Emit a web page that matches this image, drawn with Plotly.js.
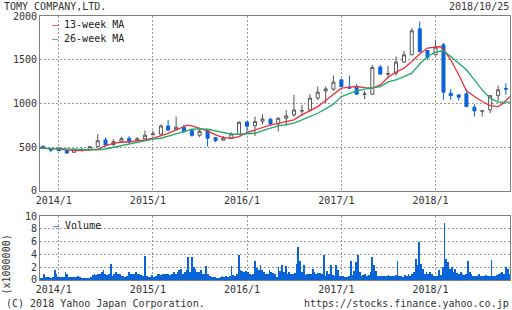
<!DOCTYPE html>
<html><head><meta charset="utf-8">
<script src="https://cdn.plot.ly/plotly-3.0.1.min.js"></script>
<style>body{margin:0;background:#fff}#c{width:512px;height:310px}</style>
</head><body><div id="c"></div>
<script>
// ---- data ----
const candleMonths = ['2013-11-01','2013-12-01','2014-01-01','2014-02-01','2014-03-01','2014-04-01','2014-05-01','2014-06-01','2014-07-01','2014-08-01','2014-09-01','2014-10-01','2014-11-01','2014-12-01','2015-01-01','2015-02-01','2015-03-01','2015-04-01','2015-05-01','2015-06-01','2015-07-01','2015-08-01','2015-09-01','2015-10-01','2015-11-01','2015-12-01','2016-01-01','2016-02-01','2016-03-01','2016-04-01','2016-05-01','2016-06-01','2016-07-01','2016-08-01','2016-09-01','2016-10-01','2016-11-01','2016-12-01','2017-01-01','2017-02-01','2017-03-01','2017-04-01','2017-05-01','2017-06-01','2017-07-01','2017-08-01','2017-09-01','2017-10-01','2017-11-01','2017-12-01','2018-01-01','2018-02-01','2018-03-01','2018-04-01','2018-05-01','2018-06-01','2018-07-01','2018-08-01','2018-09-01','2018-10-01'];
const opens  = [510,480,488,463,440,460,467,505,581,528,562,601,573,596,641,647,742,704,727,688,635,685,608,578,601,642,788,745,796,819,765,830,868,912,925,1060,1143,1163,1270,1186,1186,1103,1105,1415,1335,1346,1472,1556,1854,1606,1556,1671,1117,1097,1109,956,912,925,1089,1170];
const highs  = [515,482,495,465,478,493,510,650,612,590,619,627,613,688,688,760,811,849,753,700,716,704,612,627,670,795,795,849,876,830,840,925,1097,983,1105,1193,1193,1319,1280,1319,1220,1143,1441,1441,1430,1537,1602,1862,1938,1610,1728,1690,1166,1105,1166,991,916,1095,1204,1232];
const lows   = [480,440,450,424,438,447,462,500,520,512,555,535,570,590,636,635,677,688,665,619,612,505,555,575,598,640,650,627,757,740,677,742,849,857,906,1040,1002,1143,1190,1170,1100,1048,1100,1330,1289,1320,1465,1550,1580,1499,1550,1040,1040,1032,960,849,849,887,1029,1097];
const closes = [485,465,460,432,475,472,505,573,524,562,596,562,596,635,650,742,696,727,677,635,681,601,573,604,650,784,738,791,822,765,830,857,925,918,1060,1128,1166,1243,1193,1174,1105,1108,1411,1335,1340,1472,1556,1831,1594,1525,1644,1128,1089,1071,963,914,914,1089,1155,1163];

const maDates = ['2013-10-20','2013-11-01','2013-12-01','2014-01-01','2014-02-01','2014-03-01','2014-04-01','2014-05-01','2014-06-01','2014-07-01','2014-08-01','2014-09-01','2014-10-01','2014-11-01','2014-12-01','2015-01-01','2015-02-01','2015-03-01','2015-04-01','2015-05-01','2015-05-15','2015-06-01','2015-07-01','2015-08-01','2015-09-01','2015-10-01','2015-11-01','2015-12-01','2016-01-01','2016-02-01','2016-03-01','2016-04-01','2016-05-01','2016-06-01','2016-07-01','2016-08-01','2016-09-01','2016-10-01','2016-11-01','2016-12-01','2017-01-01','2017-02-01','2017-03-01','2017-04-01','2017-05-01','2017-06-01','2017-07-01','2017-08-01','2017-09-01','2017-10-01','2017-11-01','2017-12-01','2018-01-01','2018-01-20','2018-02-01','2018-03-01','2018-04-01','2018-05-01','2018-06-01','2018-07-01','2018-08-01','2018-09-01','2018-09-20','2018-10-17'];
const ma13 = [488,487,480,478,468,459,462,467,475,516,543,558,558,570,581,601,627,658,696,734,750,742,716,685,639,608,601,619,665,696,722,753,770,790,811,868,918,963,1032,1105,1174,1186,1193,1181,1174,1212,1300,1358,1403,1479,1564,1633,1644,1651,1614,1499,1327,1143,1078,1021,975,963,1000,1078];
const ma26 = [488,487,482,482,478,475,470,467,467,478,498,516,535,550,570,590,601,622,650,677,690,704,708,704,685,665,647,647,650,658,688,716,742,758,775,811,849,887,937,991,1078,1117,1143,1163,1174,1193,1245,1270,1307,1346,1450,1537,1587,1600,1602,1537,1461,1384,1270,1155,1060,1014,1014,1014];

const volStart = '2013-10-21'; // weekly volume, one value per week (x1,000,000)
const volumes = [
0.35,0.35,1.0,0.4,0.4,0.4,0.35,0.4,1.6,1.0,
0.5,0.4,0.5,0.4,1.2,0.9,0.5,0.5,0.5,0.5,
0.5,0.7,0.4,0.35,0.35,0.35,0.35,0.35,0.4,0.8,
0.9,0.8,0.9,1.0,1.2,1.5,0.9,0.8,1.0,2.5,
0.6,1.0,1.3,0.9,1.0,0.7,0.6,0.5,0.6,1.2,
0.9,1.0,0.9,1.2,1.0,0.9,0.8,0.6,3.75,0.6,
0.5,0.4,0.8,0.5,0.6,0.9,1.0,0.8,1.0,0.9,
1.0,0.95,0.8,1.0,1.2,1.0,1.3,1.6,1.7,1.0,
1.3,1.6,3.6,1.3,3.6,2.1,1.7,1.3,1.2,1.6,
1.0,0.9,2.2,0.9,0.6,0.5,0.4,0.5,0.35,0.3,
0.5,0.6,0.5,0.6,0.5,0.6,2.2,0.8,0.6,1.0,
3.9,1.6,1.4,1.2,1.4,1.3,1.0,0.8,0.9,2.9,
1.8,1.6,2.3,1.5,1.3,1.0,0.9,1.6,1.3,1.1,
0.9,0.45,2.0,1.35,2.4,1.2,2.2,1.0,1.2,1.0,
1.0,1.1,2.5,5.2,2.9,1.2,2.4,0.8,1.0,0.9,
1.0,1.7,1.2,1.0,1.1,1.1,1.0,3.85,0.7,1.35,
1.0,2.4,0.8,0.7,2.4,1.5,0.7,0.7,0.55,0.45,
0.45,0.7,2.9,0.8,1.4,2.8,3.85,1.2,0.7,0.8,
1.0,0.7,0.8,1.2,3.6,2.3,1.35,0.7,0.7,0.6,
0.7,0.6,0.6,0.8,0.7,0.7,0.7,0.8,2.9,0.6,
0.55,0.45,0.8,0.7,1.0,0.7,1.0,1.2,3.3,2.3,
5.9,2.55,1.7,1.0,1.2,1.0,1.2,1.0,0.7,0.6,
0.7,1.5,0.8,2.0,8.9,3.3,2.8,1.7,2.0,1.3,
1.7,1.1,1.0,1.2,1.0,0.8,1.0,2.9,1.2,1.0,
0.7,0.7,0.6,1.0,0.7,0.7,0.6,0.8,0.7,0.6,
3.1,0.7,0.6,0.8,1.0,1.1,1.2,1.0,2.0,1.7,
1.0];

const yearTicks = ['2014-01-01','2015-01-01','2016-01-01','2017-01-01','2018-01-01'];
const yearLabels = ['2014/1','2015/1','2016/1','2017/1','2018/1'];
const priceTicks = [0,500,1000,1500,2000];
const volTicks = [0,2,4,6,8,10];

// ---- build ----
const d0 = new Date(volStart + 'T00:00:00Z');
const volDates = volumes.map((v,i) => new Date(d0.getTime() + i*7*86400000).toISOString().slice(0,10));

const FONT = 'DejaVu Sans Mono';
const BLUE = '#0a64d9';
const RED = '#e8333c';
const GREEN = '#20a86a';
const GRID = '#9a9a9a';
const BORDER = '#808080';
const TXT = '#333333';

const traces = [
  {type:'candlestick', x:candleMonths, open:opens, high:highs, low:lows, close:closes,
   xaxis:'x2', yaxis:'y2', whiskerwidth:0,
   increasing:{line:{color:'#555555', width:1}, fillcolor:'#ffffff'},
   decreasing:{line:{color:BLUE, width:1}, fillcolor:BLUE},
   showlegend:false, hoverinfo:'skip'},
  {type:'scatter', mode:'lines', x:maDates, y:ma13, xaxis:'x2', yaxis:'y2',
   line:{color:RED, width:1.3}, showlegend:false, hoverinfo:'skip'},
  {type:'scatter', mode:'lines', x:maDates, y:ma26, xaxis:'x2', yaxis:'y2',
   line:{color:GREEN, width:1.3}, showlegend:false, hoverinfo:'skip'},
  {type:'bar', x:volDates, y:volumes, xaxis:'x', yaxis:'y',
   marker:{color:BLUE, line:{width:0}}, showlegend:false, hoverinfo:'skip'}
];

const xRange = ['2013-10-20','2018-10-17'];
const xCommon = {
  type:'date', range:xRange, tickvals:yearTicks, ticktext:yearLabels,
  showgrid:true, gridcolor:GRID, griddash:'2px,2px', gridwidth:1,
  showline:true, linecolor:BORDER, linewidth:1, mirror:true,
  ticks:'', zeroline:false, ticklabelshift:-5,
  tickfont:{family:FONT, size:10, color:TXT}, fixedrange:true
};

const layout = {
  width:512, height:310,
  margin:{l:40, r:2, t:16, b:30, pad:0},
  paper_bgcolor:'#ffffff', plot_bgcolor:'#ffffff',
  font:{family:FONT, size:10, color:TXT},
  bargap:0, boxgap:0.4,
  showlegend:false,
  xaxis: Object.assign({}, xCommon, {anchor:'y'}),
  xaxis2: Object.assign({}, xCommon, {anchor:'y2', matches:'x', rangeslider:{visible:false}}),
  yaxis: {domain:[0, 0.2424], range:[0,10], tickvals:volTicks, showgrid:true, gridcolor:GRID, griddash:'2px,2px',
    showline:true, linecolor:BORDER, mirror:true, ticks:'', zeroline:false,
    tickfont:{family:FONT, size:10, color:TXT}, fixedrange:true},
  yaxis2: {domain:[0.338, 1], range:[0,2000], tickvals:priceTicks, showgrid:true, gridcolor:GRID, griddash:'2px,2px',
    showline:true, linecolor:BORDER, mirror:true, ticks:'', zeroline:false,
    tickfont:{family:FONT, size:10, color:TXT}, fixedrange:true},
  title:{text:'TOMY COMPANY,LTD.', font:{family:FONT, size:10, color:TXT},
    xref:'container', yref:'container', x:4/512, xanchor:'left', y:1-6/310, yanchor:'middle'},
  annotations:[
    {text:'2018/10/25', xref:'paper', yref:'paper', x:1.003, xanchor:'right', y:1+10/264, yanchor:'middle', showarrow:false, font:{family:FONT,size:10,color:TXT}},
    {text:'<span style="color:'+RED+'">—</span> 13-week MA', xref:'paper', yref:'y2 domain', x:10/470, xanchor:'left', y:(190.7-25)/174.4, yanchor:'middle', showarrow:false, font:{family:FONT,size:10,color:'#222'}},
    {text:'<span style="color:'+GREEN+'">—</span> 26-week MA', xref:'paper', yref:'y2 domain', x:10/470, xanchor:'left', y:(190.7-39)/174.4, yanchor:'middle', showarrow:false, font:{family:FONT,size:10,color:'#222'}},
    {text:'<span style="color:'+BLUE+'">—</span> Volume', xref:'paper', yref:'y domain', x:11/470, xanchor:'left', y:(280-225)/64, yanchor:'middle', showarrow:false, font:{family:FONT,size:10,color:'#222'}},
    {text:'(x1000000)', xref:'paper', yref:'y domain', x:(6.5-40)/470, xanchor:'center', y:(280-265)/64, yanchor:'middle', textangle:-90, showarrow:false, font:{family:FONT,size:10,color:TXT}},
    {text:'(C) 2018 Yahoo Japan Corporation.', xref:'paper', yref:'paper', x:(4-40)/470, xanchor:'left', y:-(303-280)/264, yanchor:'middle', showarrow:false, font:{family:FONT,size:10,color:TXT}},
    {text:'https://stocks.finance.yahoo.co.jp', xref:'paper', yref:'paper', x:1.003, xanchor:'right', y:-(303-280)/264, yanchor:'middle', showarrow:false, font:{family:FONT,size:10,color:TXT}}
  ]
};

Plotly.newPlot('c', traces, layout, {staticPlot:true, displayModeBar:false});
</script></body></html>
